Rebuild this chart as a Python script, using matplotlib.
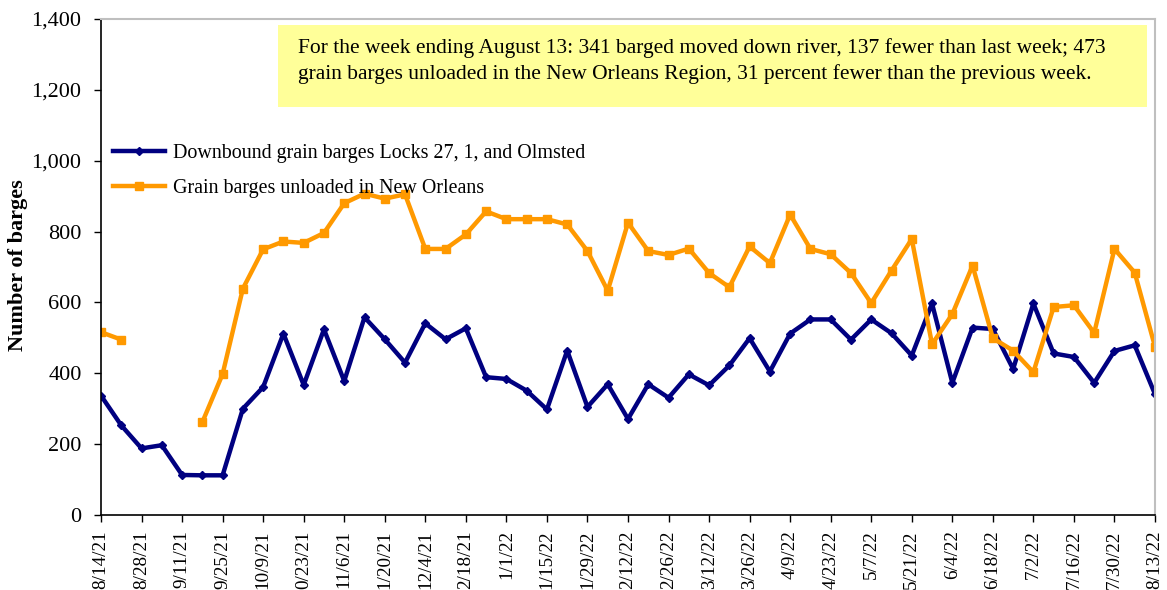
import matplotlib
matplotlib.use("Agg")
import matplotlib.pyplot as plt
from matplotlib.patches import Rectangle
import numpy as np

weeks = ["8/14/21", "8/21/21", "8/28/21", "9/4/21", "9/11/21", "9/18/21", "9/25/21", "10/2/21",
         "10/9/21", "10/16/21", "10/23/21", "10/30/21", "11/6/21", "11/13/21", "11/20/21", "11/27/21",
         "12/4/21", "12/11/21", "12/18/21", "12/25/21", "1/1/22", "1/8/22", "1/15/22", "1/22/22",
         "1/29/22", "2/5/22", "2/12/22", "2/19/22", "2/26/22", "3/5/22", "3/12/22", "3/19/22",
         "3/26/22", "4/2/22", "4/9/22", "4/16/22", "4/23/22", "4/30/22", "5/7/22", "5/14/22",
         "5/21/22", "5/28/22", "6/4/22", "6/11/22", "6/18/22", "6/25/22", "7/2/22", "7/9/22",
         "7/16/22", "7/23/22", "7/30/22", "8/6/22", "8/13/22"]

tick_labels = ["8/14/21", "8/28/21", "9/11/21", "9/25/21", "10/9/21", "0/23/21", "11/6/21",
               "1/20/21", "12/4/21", "2/18/21", "1/1/22", "1/15/22", "1/29/22", "2/12/22",
               "2/26/22", "3/12/22", "3/26/22", "4/9/22", "4/23/22", "5/7/22", "5/21/22",
               "6/4/22", "6/18/22", "7/2/22", "7/16/22", "7/30/22", "8/13/22"]

downbound = [337, 253, 188, 197, 113, 112, 112, 300, 361, 512, 367, 524, 378, 558, 496, 430,
             541, 496, 527, 389, 384, 351, 298, 464, 305, 369, 271, 369, 331, 397, 366, 422,
             499, 405, 512, 552, 552, 495, 552, 513, 450, 597, 373, 529, 525, 412, 597, 456,
             446, 373, 463, 479, 341]

unloaded = [516, 495, np.nan, np.nan, np.nan, 262, 398, 639, 750, 772, 768, 796, 880, 907, 893, 905,
            751, 751, 792, 857, 835, 835, 835, 820, 745, 633, 825, 745, 734, 752, 683, 643,
            758, 711, 848, 751, 736, 683, 598, 690, 779, 482, 567, 704, 499, 464, 403, 587,
            592, 514, 751, 684, 475]

serif = ["Liberation Serif", "DejaVu Serif"]
plt.rcParams["font.family"] = serif

W, H = 1167, 590
fig = plt.figure(figsize=(W / 100, H / 100), dpi=100)
ax = fig.add_axes([101 / W, 1 - 515 / H, (1155 - 101) / W, (515 - 19) / H])

x = np.arange(len(weeks))
ax.plot(x, downbound, color="#000080", lw=3.2, marker="D", ms=4.5,
        label="Downbound grain barges Locks 27, 1, and Olmsted")
ax.plot(x, unloaded, color="#FF9900", lw=3.2, marker="s", ms=5.5,
        label="Grain barges unloaded in New Orleans")

ax.set_xlim(0, 52)
ax.set_ylim(0, 1400)
ax.set_yticks(np.arange(0, 1401, 200))
ax.set_yticklabels([f"{v:,}" for v in range(0, 1401, 200)], fontsize=16)
ax.set_xticks(x[::2])
ax.set_xticklabels(tick_labels, rotation=90, fontsize=13.8)
ax.tick_params(axis="both", direction="out", length=5, width=1, color="black")
ax.tick_params(axis="x", pad=6)
ax.tick_params(axis="y", pad=9)

for s in ["top", "right"]:
    ax.spines[s].set_color("#BFBFBF")
    ax.spines[s].set_linewidth(1.5)
for s in ["left", "bottom"]:
    ax.spines[s].set_color("black")
    ax.spines[s].set_linewidth(1.2)

ax.set_ylabel("Number of barges", fontsize=16, fontweight="bold")
ax.yaxis.set_label_coords((28 - 101) / 1054, (515 - 265) / 496)

leg = ax.legend(loc="upper left", bbox_to_anchor=(12 / 1054, (515 - 144) / 496), frameon=False,
                fontsize=14.4, handlelength=2.6, handletextpad=0.4, labelspacing=0.8,
                borderaxespad=0.0, borderpad=0.0)

rect = Rectangle((278 / W, 1 - 107 / H), (1147 - 278) / W, (107 - 25) / H,
                 transform=fig.transFigure, facecolor="#FFFF99", edgecolor="none", zorder=5)
fig.patches.append(rect)
fig.text(298 / W, 1 - 61 / H,
         "For the week ending August 13: 341 barged moved down river, 137 fewer than last week; 473\n"
         "grain barges unloaded in the New Orleans Region, 31 percent fewer than the previous week.",
         fontsize=15.5, va="center", ha="left", linespacing=1.38, zorder=6)

fig.savefig("out.png", dpi=100)
